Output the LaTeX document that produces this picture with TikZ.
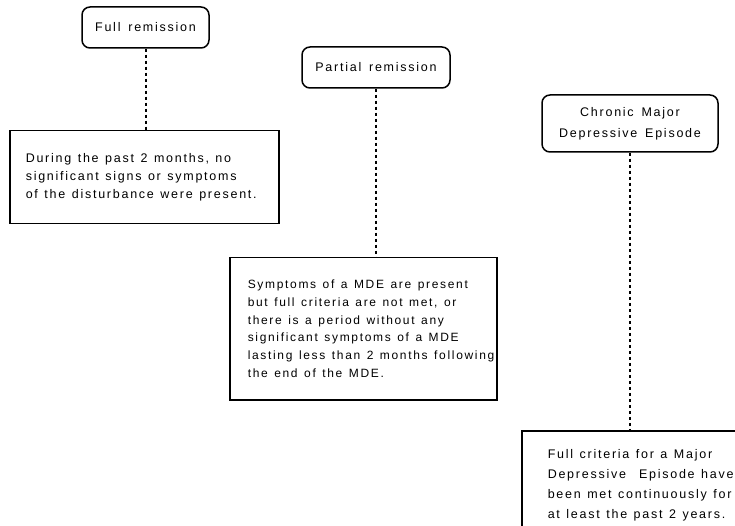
\documentclass[tikz,border=0pt]{standalone}
\usepackage{fontspec}
\setmainfont{Liberation Sans}[LetterSpace=14, WordSpace=1.5]
\usepackage{tikz}

\newcommand{\widespaces}{\spaceskip=6.5pt plus 1pt minus 1pt\relax}

\tikzset{
  titlebox/.style={draw, line width=1.5pt, rounded corners=8pt, align=center,
    font=\fontsize{12.5}{21}\selectfont},
  textbox/.style={draw, line width=1.5pt, align=left, anchor=north west,
    font=\fontsize{12.5}{18}\selectfont, execute at begin node=\widespaces},
  link/.style={line width=2pt, dash pattern=on 3pt off 3pt}
}

\begin{document}
\begin{tikzpicture}[x=1pt,y=1pt]
        \useasboundingbox (0,0) rectangle (735,-526);

        % Draw title boxes
        \node[titlebox, minimum width=127pt, minimum height=41pt] (full) at (145.5,-27.5) {Full remission};
        \node[titlebox, minimum width=148pt, minimum height=41pt] (partial) at (376,-67.5) {Partial remission};
        \node[titlebox, minimum width=176pt, minimum height=57pt] (chronic) at (630,-123.5) {Chronic Major\\Depressive Episode};

        % Draw text boxes
        \node[textbox, inner xsep=16pt, text width=237pt, minimum height=93pt] (fulltext) at (9,-130)
          {During the past 2 months, no\\significant signs or symptoms\\of the disturbance were present.};
        \node[textbox, inner xsep=18pt, text width=231pt, minimum height=142pt, font=\fontsize{12}{17.8}\selectfont] (partialtext) at (229,-257)
          {\mbox{Symptoms of a MDE are present}\\but full criteria are not met, or\\there is a period without any\\significant symptoms of a MDE\\\mbox{lasting less than 2 months following}\\the end of the MDE.};
        \node[textbox, inner xsep=26pt, text width=200pt, minimum height=109pt, font=\fontsize{12.5}{19.7}\selectfont] (chronictext) at (521,-430)
          {Full criteria for a Major\\Depressive\ \ Episode have\\been met continuously for\\at least the past 2 years.};

        % Draw dotted links
        \draw[link] (full.south) -- (full.south |- fulltext.north);
        \draw[link] (partial.south) -- (partial.south |- partialtext.north);
        \draw[link] (chronic.south) -- (chronic.south |- chronictext.north);
\end{tikzpicture}
\end{document}
